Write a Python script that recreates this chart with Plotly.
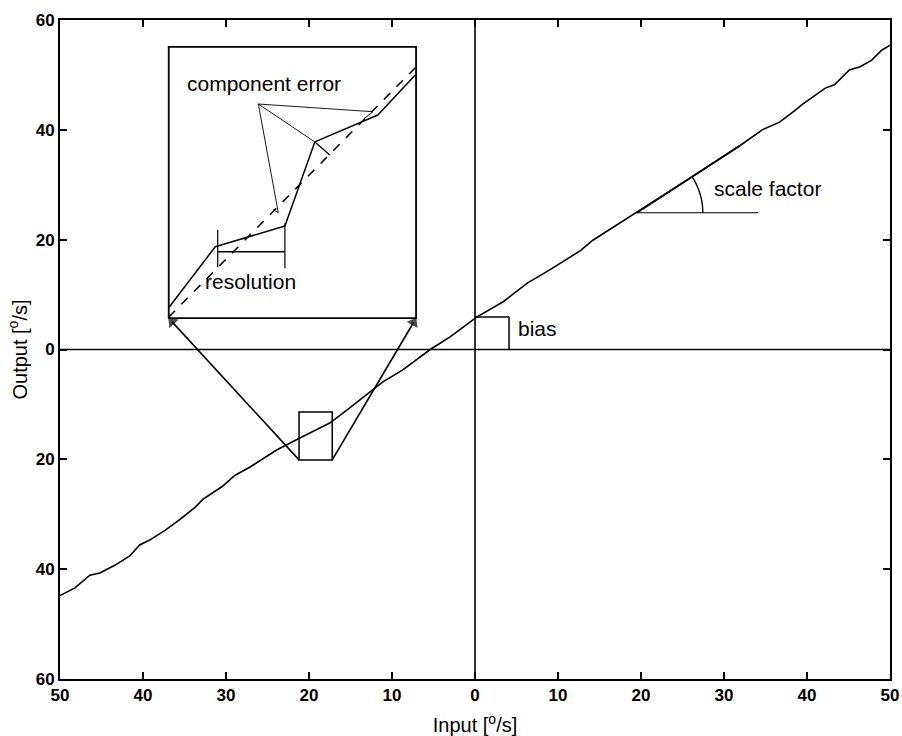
import numpy as np
import plotly.graph_objects as go

# ---- main characteristic ----
input_x = [-50.0, -48.2, -46.4, -45.2, -43.4, -41.6, -40.4, -39.2, -37.3, -35.5, -33.7,
           -32.8, -30.5, -28.9, -27.1, -23.9, -21.1, -17.5, -15.4, -13.5, -11.1, -8.7,
           -5.4, -3.0, 0.2, 3.4, 6.3, 9.0, 12.7, 14.2, 16.5, 19.5, 22.7, 25.9, 28.7,
           31.9, 34.6, 36.7, 38.6, 39.4, 42.2, 43.3, 45.1, 46.4, 47.8, 49.0, 50.0]
output_y = [-44.8, -43.4, -41.1, -40.7, -39.3, -37.6, -35.6, -34.7, -32.9, -30.9, -28.7,
            -27.3, -25.0, -22.9, -21.4, -18.3, -16.1, -13.4, -11.0, -8.7, -5.9, -3.7,
            0.0, 2.3, 5.9, 8.7, 12.1, 14.5, 18.0, 19.9, 22.1, 24.9, 28.1, 31.2, 34.0,
            37.1, 40.0, 41.4, 43.6, 44.6, 47.6, 48.2, 50.9, 51.5, 52.7, 54.5, 55.4]

x_tickvals = [-50, -40, -30, -20, -10, 0, 10, 20, 30, 40, 50]
x_ticktext = ["50", "40", "30", "20", "10", "0", "10", "20", "30", "40", "50"]
y_tickvals = [-60, -40, -20, 0, 20, 40, 60]
y_ticktext = ["60", "40", "20", "0", "20", "40", "60"]

# ---- annotation geometry (data coordinates) ----
inset_box = (-36.9, -7.1, 5.7, 55.1)          # x0, x1, y0, y1
zoom_box = (-21.2, -17.2, -20.1, -11.4)
stair_x = [-36.9, -31.3, -22.9, -19.3, -11.7, -7.2]
stair_y = [7.6, 18.7, 22.5, 37.8, 42.7, 50.0]
dash_x = [-36.9, -7.2]
dash_y = [5.9, 51.3]
res_x = [-31.0, -22.9]
res_y = 17.8
ce_origin = (-26.1, 44.7)
ce_targets = [(-12.3, 43.3), (-19.3, 37.8), (-23.7, 24.9)]
sf_origin = (19.5, 24.9)
sf_base_end = 34.1
sf_tangent_end = (31.9, 37.1)
bias_x = [0.0, 4.1]
bias_y = [0.0, 5.9]

FONT = "Liberation Sans, Arial, sans-serif"

fig = go.Figure()
fig.add_trace(go.Scatter(x=input_x, y=output_y, mode="lines",
                         line=dict(color="black", width=1.6), showlegend=False,
                         hoverinfo="skip"))

# zoom arrows (line + filled arrowhead oriented along the segment)
for cx_zoom, cx_inset in ((zoom_box[0], inset_box[0]), (zoom_box[1], inset_box[1])):
    fig.add_trace(go.Scatter(
        x=[cx_zoom, cx_inset], y=[zoom_box[2], inset_box[2]], mode="lines+markers",
        line=dict(color="black", width=1.6),
        marker=dict(symbol="triangle-up", size=[0, 11], angleref="previous",
                    color="black", line=dict(width=0), standoff=5),
        showlegend=False, hoverinfo="skip"))

shapes = []
def seg(x0, y0, x1, y1, w=1.4, dash=None):
    d = dict(type="line", xref="x", yref="y", x0=x0, y0=y0, x1=x1, y1=y1,
             line=dict(color="black", width=w))
    if dash:
        d["line"]["dash"] = dash
    shapes.append(d)

# axes cross lines
seg(0, -60, 0, 60, 1.6)
seg(-50, 0, 50, 0, 1.6)
# inset and zoom box
shapes.append(dict(type="rect", xref="x", yref="y", x0=inset_box[0], x1=inset_box[1],
                   y0=inset_box[2], y1=inset_box[3], line=dict(color="black", width=1.8)))
shapes.append(dict(type="rect", xref="x", yref="y", x0=zoom_box[0], x1=zoom_box[1],
                   y0=zoom_box[2], y1=zoom_box[3], line=dict(color="black", width=1.5)))
# staircase
for i in range(len(stair_x) - 1):
    seg(stair_x[i], stair_y[i], stair_x[i + 1], stair_y[i + 1], 1.5)
seg(dash_x[0], dash_y[0], dash_x[1], dash_y[1], 1.5, "dash")
# resolution bracket
seg(res_x[0], res_y, res_x[1], res_y, 1.5)
seg(res_x[0], 15.0, res_x[0], 21.8, 1.2)
seg(res_x[1], 14.8, res_x[1], 23.0, 1.2)
# component error pointers
for tx, ty in ce_targets:
    seg(ce_origin[0], ce_origin[1], tx, ty, 0.9)
seg(-19.3, 37.8, -17.5, 35.4, 1.3)
seg(-13.4, 42.0, -12.3, 43.3, 1.0)
seg(-24.3, 25.5, -23.7, 24.9, 1.0)
# scale factor
seg(sf_origin[0], sf_origin[1], sf_base_end, sf_origin[1], 1.2)
seg(sf_origin[0], sf_origin[1], sf_tangent_end[0], sf_tangent_end[1], 1.8)
t = np.linspace(0, np.radians(33), 20)
ax_ = sf_origin[0] + 7.95 * np.cos(t)
ay_ = sf_origin[1] + 12.0 * np.sin(t)
path = "M " + " L ".join(f"{a:.3f},{b:.3f}" for a, b in zip(ax_, ay_))
shapes.append(dict(type="path", xref="x", yref="y", path=path,
                   line=dict(color="black", width=1.4)))
# bias bracket
seg(bias_x[0], bias_y[1], bias_x[1], bias_y[1], 1.5)
seg(bias_x[1], bias_y[0], bias_x[1], bias_y[1], 1.5)

TXT = dict(size=21, color="black", family=FONT)
annotations = [
    dict(x=-25.4, y=48.5, text="component error", showarrow=False, xref="x", yref="y",
         font=TXT),
    dict(x=-27.1, y=12.3, text="resolution", showarrow=False, xref="x", yref="y",
         font=TXT),
    dict(x=28.6, y=29.4, text="scale factor", showarrow=False, xref="x", yref="y",
         xanchor="left", font=TXT),
    dict(x=4.9, y=3.9, text="bias", showarrow=False, xref="x", yref="y",
         xanchor="left", font=TXT),
]

axis_common = dict(showgrid=False, zeroline=False, showline=True, linecolor="black",
                   linewidth=2, mirror="ticks", ticks="inside", ticklen=7, tickwidth=1.5,
                   tickcolor="black",
                   tickfont=dict(size=17, family=FONT, color="black", weight="bold"),
                   automargin=False)

fig.update_layout(
    template="none",
    width=902, height=736,
    margin=dict(l=60, r=12, t=20, b=57),
    paper_bgcolor="white", plot_bgcolor="white",
    shapes=shapes, annotations=annotations,
    font=dict(family=FONT, color="black", size=17),
    xaxis=dict(range=[-50, 50], tickvals=x_tickvals, ticktext=x_ticktext,
               title=dict(text="Input [<sup>o</sup>/s]",
                          font=dict(size=20, family=FONT, color="black"), standoff=17),
               **axis_common),
    yaxis=dict(range=[-60, 60], tickvals=y_tickvals, ticktext=y_ticktext,
               title=dict(text="Output [<sup>o</sup>/s]",
                          font=dict(size=20, family=FONT, color="black"), standoff=3),
               **axis_common),
)

fig.write_html("out.html")
